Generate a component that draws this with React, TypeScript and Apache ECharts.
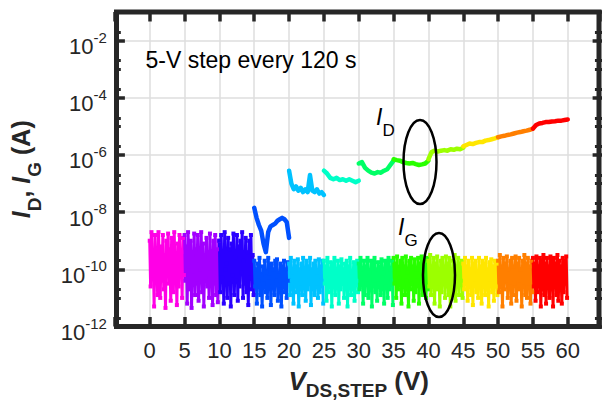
import React, { useEffect, useRef } from "react";
import * as echarts from "echarts";

const FONT = '"Liberation Sans", Arial, Helvetica, sans-serif';
const INK = "#262626";

// x-axis tick labels (V) and y-axis decade labels (log10 A)
const X_TICK_LABELS = [0, 5, 10, 15, 20, 25, 30, 35, 40, 45, 50, 55, 60];
const Y_DECADE_LABELS = [-12, -10, -8, -6, -4, -2];
const Y_MINOR_TICKS = [-11.7, -11, -10.7, -9.7, -9, -8.7, -7.7, -7, -6.7, -5.7, -5, -4.7, -3.7, -3, -2.7, -1.7];

// 5-V steps
const STEP_STARTS = [0, 5, 10, 15, 20, 25, 30, 35, 40, 45, 50, 55];
const STEP_COLORS = [
  "#FF00E6", "#A200FF", "#2A00FF", "#0050FF", "#00C2FF", "#00FFC8",
  "#00FF66", "#28FF00", "#9CFF00", "#FFE600", "#FF7F00", "#FF0000",
];

// I_G (log10 A) read from each step's noise cloud
const IG_00_05 = [-9.0,-10.6,-8.7,-10.2,-9.4,-11.3,-8.8,-10.0,-9.6,-10.9,-8.7,-9.8,-11.0,-9.2,-10.4,-8.8,-10.7,-9.5,-11.35,-9.0,-10.1,-8.75,-10.5,-9.3,-11.1,-8.9,-9.9,-10.8,-8.7,-10.3,-9.7,-11.25,-9.1,-10.6,-8.8,-10.0,-9.4,-11.0,-8.9,-10.2];
const IG_05_10 = [-8.8,-10.4,-9.2,-11.2,-8.7,-9.9,-10.7,-9.0,-11.35,-9.5,-10.2,-8.75,-10.9,-9.3,-10.5,-8.8,-11.1,-9.7,-10.0,-8.7,-10.8,-9.1,-11.3,-9.6,-10.3,-8.9,-10.6,-9.4,-11.0,-8.75,-10.1,-9.8,-11.25,-9.0,-10.5,-8.8,-10.9,-9.3,-11.15,-9.0];
const IG_10_15 = [-9.0,-10.8,-8.8,-10.3,-9.5,-11.2,-8.7,-10.0,-9.8,-11.0,-8.9,-10.5,-9.3,-11.3,-9.1,-10.2,-8.75,-10.9,-9.6,-10.4,-8.8,-11.1,-9.2,-10.6,-9.0,-10.1,-8.7,-11.0,-9.7,-10.5,-8.9,-10.8,-9.4,-11.25,-9.0,-10.3,-8.8,-10.7,-9.5,-10.9];
const IG_15_20 = [-9.7,-10.6,-10.0,-11.2,-9.8,-10.4,-9.6,-10.9,-10.2,-11.3,-9.9,-10.5,-9.7,-10.8,-10.1,-11.0,-9.6,-10.3,-9.9,-11.25,-9.8,-10.6,-10.0,-10.9,-9.7,-10.4,-9.65,-11.1,-10.2,-10.7,-9.8,-11.3,-9.9,-10.5,-9.7,-10.8,-10.0,-11.0,-9.75,-10.4];
const IG_20_25 = [-9.8,-10.9,-9.6,-10.4,-10.1,-11.2,-9.7,-10.6,-9.9,-10.8,-9.65,-11.3,-10.0,-10.5,-9.8,-10.9,-9.6,-10.3,-10.2,-11.1,-9.7,-10.7,-9.9,-10.4,-9.6,-11.25,-10.0,-10.6,-9.8,-10.9,-9.7,-10.5,-10.1,-11.0,-9.65,-10.8,-9.9,-10.4,-9.7,-11.2];
const IG_25_30 = [-9.7,-10.5,-9.9,-11.1,-9.6,-10.8,-10.0,-10.4,-9.75,-11.3,-9.8,-10.6,-9.6,-10.9,-10.1,-10.5,-9.7,-11.2,-9.9,-10.7,-9.65,-10.4,-10.0,-11.0,-9.8,-10.6,-9.7,-11.3,-9.9,-10.5,-9.6,-10.9,-10.1,-10.7,-9.75,-11.1,-9.8,-10.4,-9.7,-10.8];
const IG_30_35 = [-9.8,-10.7,-9.6,-10.3,-10.0,-11.2,-9.7,-10.9,-9.9,-10.5,-9.6,-11.0,-10.1,-10.6,-9.7,-11.3,-9.8,-10.4,-9.6,-10.8,-10.0,-11.1,-9.75,-10.5,-9.9,-10.9,-9.65,-10.3,-10.1,-11.2,-9.7,-10.6,-9.8,-11.0,-9.6,-10.7,-10.0,-10.4,-9.7,-11.25];
const IG_35_40 = [-9.6,-10.5,-9.8,-11.0,-9.55,-10.7,-10.0,-10.3,-9.7,-11.2,-9.6,-10.6,-9.9,-10.9,-9.55,-10.4,-10.1,-11.3,-9.7,-10.7,-9.6,-10.5,-9.9,-11.1,-9.65,-10.8,-10.0,-10.4,-9.6,-11.2,-9.8,-10.6,-9.55,-10.9,-9.9,-10.5,-9.7,-11.0,-9.6,-10.7];
const IG_40_45 = [-9.7,-10.6,-9.5,-10.9,-9.9,-10.4,-9.6,-11.2,-9.8,-10.7,-9.55,-10.5,-10.0,-11.3,-9.7,-10.8,-9.6,-10.4,-9.9,-11.0,-9.55,-10.6,-9.8,-10.9,-9.6,-11.3,-10.0,-10.5,-9.7,-10.8,-9.5,-11.1,-9.9,-10.6,-9.6,-10.9,-9.8,-10.4,-9.7,-11.0];
const IG_45_50 = [-9.8,-10.7,-9.6,-10.4,-9.9,-11.1,-9.7,-10.6,-10.0,-10.9,-9.6,-11.25,-9.8,-10.5,-9.7,-10.8,-10.1,-11.0,-9.6,-10.6,-9.9,-11.2,-9.7,-10.4,-9.8,-10.9,-9.6,-10.7,-10.0,-11.3,-9.75,-10.5,-9.65,-10.8,-9.9,-11.1,-9.7,-10.6,-9.8,-10.9];
const IG_50_55 = [-9.7,-10.8,-9.5,-10.5,-9.9,-11.3,-9.6,-10.7,-9.8,-10.4,-9.55,-11.0,-10.0,-10.6,-9.7,-11.2,-9.6,-10.9,-9.9,-10.5,-9.55,-11.1,-9.8,-10.7,-9.6,-10.4,-10.0,-11.3,-9.7,-10.6,-9.5,-10.9,-9.8,-11.0,-9.6,-10.5,-9.9,-11.2,-9.7,-10.8];
const IG_55_60 = [-9.6,-10.6,-9.8,-11.1,-9.55,-10.8,-9.9,-10.4,-9.6,-11.3,-9.7,-10.7,-9.5,-10.9,-9.8,-11.2,-9.6,-10.5,-9.9,-11.0,-9.55,-10.7,-9.7,-11.3,-9.6,-10.6,-9.8,-10.9,-9.5,-11.1,-9.7,-10.4,-9.9,-11.2,-9.6,-10.8,-9.7,-10.5,-9.55,-11.0];
const IG_STEPS = [IG_00_05, IG_05_10, IG_10_15, IG_15_20, IG_20_25, IG_25_30, IG_30_35, IG_35_40, IG_40_45, IG_45_50, IG_50_55, IG_55_60];

// I_D (log10 A) per step (not separable from I_G below 15 V)
const ID_15_20 = [-7.85,-8.2,-8.45,-8.65,-9.1,-9.4,-8.7,-8.5,-8.45,-8.4,-8.3,-8.25,-8.2,-8.25,-8.35,-8.9];
const ID_20_25 = [-6.55,-7.0,-7.2,-7.1,-7.25,-7.15,-7.3,-7.2,-7.3,-6.7,-7.25,-7.3,-7.2,-7.35,-7.3,-7.4];
const ID_25_30 = [-6.55,-6.65,-6.8,-6.85,-6.8,-6.88,-6.85,-6.9,-6.85,-6.9,-6.95,-6.9];
const ID_30_35 = [-6.3,-6.25,-6.45,-6.55,-6.62,-6.65,-6.6,-6.62,-6.55,-6.5,-6.35,-6.2];
const ID_35_40 = [-6.15,-6.18,-6.2,-6.25,-6.28,-6.3,-6.28,-6.32,-6.35,-6.33,-6.3,-6.2];
const ID_40_45 = [-6.15,-5.9,-5.85,-5.88,-5.85,-5.83,-5.85,-5.8,-5.82,-5.78,-5.8,-5.75];
const ID_45_50 = [-5.7,-5.65,-5.6,-5.62,-5.58,-5.55,-5.55,-5.5,-5.48,-5.45,-5.42,-5.38];
const ID_50_55 = [-5.38,-5.35,-5.33,-5.3,-5.28,-5.25,-5.22,-5.2,-5.17,-5.15,-5.12,-5.08];
const ID_55_60 = [-5.08,-4.95,-4.9,-4.88,-4.85,-4.85,-4.83,-4.82,-4.8,-4.8,-4.78,-4.76];
const ID_STEPS: (number[] | null)[] = [null, null, null, ID_15_20, ID_20_25, ID_25_30, ID_30_35, ID_35_40, ID_40_45, ID_45_50, ID_50_55, ID_55_60];

const X_MIN = -5;
const X_MAX = 65;

export default function App() {
  const ref = useRef<HTMLDivElement>(null);
  useEffect(() => {
    if (!ref.current) return;
    const chart = echarts.init(ref.current, null, { renderer: "svg" });
    const series: any[] = [];
    IG_STEPS.forEach((vals, k) => {
      const n = vals.length;
      const c = STEP_COLORS[k];
      series.push({
        type: "line",
        data: vals.map((v, j) => [STEP_STARTS[k] + (4.9 * j) / (n - 1), v]),
        symbol: "rect",
        symbolSize: 4,
        showSymbol: true,
        lineStyle: { color: c, width: 3 },
        itemStyle: { color: c },
        z: 2,
        silent: true,
      });
    });
    ID_STEPS.forEach((vals, k) => {
      if (!vals) return;
      const n = vals.length;
      const c = STEP_COLORS[k];
      series.push({
        type: "line",
        data: vals.map((v, j) => [STEP_STARTS[k] + (5 * j) / (n - 1), v]),
        showSymbol: false,
        lineStyle: { color: c, width: 4.5, join: "round", cap: "round" },
        itemStyle: { color: c },
        z: 3,
        silent: true,
      });
    });
    // minor (log) ticks on left and right frame edges
    const minorSegs: any[] = [];
    Y_MINOR_TICKS.forEach((t) => {
      minorSegs.push([{ coord: [X_MIN, t] }, { coord: [X_MIN + 0.85, t] }]);
      minorSegs.push([{ coord: [X_MAX, t] }, { coord: [X_MAX - 1.1, t] }]);
    });
    series.push({
      type: "line",
      data: [],
      silent: true,
      z: 4,
      markLine: {
        symbol: "none",
        silent: true,
        animation: false,
        label: { show: false },
        lineStyle: { color: INK, width: 3, type: "solid" },
        emphasis: { disabled: true },
        data: minorSegs,
      },
    });

    const mkX = (pos: string, withLabels: boolean) => ({
      type: "value",
      position: pos,
      min: X_MIN,
      max: X_MAX,
      interval: 5,
      axisLine: { show: false, onZero: false },
      axisTick: { show: true, inside: true, length: 9.5, lineStyle: { color: INK, width: 3.5 } },
      axisLabel: withLabels
        ? {
            formatter: (v: number) => (X_TICK_LABELS.includes(v) ? String(v) : ""),
            fontSize: 22,
            color: INK,
            margin: 13,
            fontFamily: FONT,
          }
        : { show: false },
      splitLine: withLabels
        ? { show: true, lineStyle: { color: "#dedede", width: 1.5 } }
        : { show: false },
    });
    const mkY = (pos: string) => ({
      type: "value",
      position: pos,
      min: -12,
      max: -1,
      interval: 2,
      axisLine: { show: false, onZero: false },
      axisTick: { show: true, inside: true, length: 10, lineStyle: { color: INK, width: 3.5 } },
      axisLabel: { show: false },
      splitLine: { show: false },
    });

    const yMain: any = mkY("left");
    yMain.axisLabel = {
      show: true,
      formatter: (v: number) => (Y_DECADE_LABELS.includes(v) ? `{b|10}{s|${v}}` : ""),
      margin: 8,
      padding: [12, 0, 0, 0],
      rich: {
        b: { fontSize: 22, lineHeight: 34, color: INK, fontFamily: FONT },
        s: { fontSize: 15, verticalAlign: "top", color: INK, fontFamily: FONT },
      },
    };
    yMain.splitLine = { show: true, lineStyle: { color: "#dedede", width: 1.5 } };
    yMain.name = "{i|I}{sub|D}{n|, }{i|I}{sub|G}{n| (A)}";
    yMain.nameLocation = "middle";
    yMain.nameRotate = 90;
    yMain.nameGap = 71;
    yMain.nameTextStyle = {
      rich: {
        i: { fontSize: 25, fontWeight: "bold", fontStyle: "italic", lineHeight: 46, color: INK, fontFamily: FONT },
        sub: { fontSize: 19, fontWeight: "bold", verticalAlign: "bottom", color: INK, fontFamily: FONT },
        n: { fontSize: 25, fontWeight: "bold", lineHeight: 46, color: INK, fontFamily: FONT },
      },
    };

    const xMain: any = mkX("bottom", true);
    xMain.name = "{vi|V}{sub|DS,STEP}{n| (V)}";
    xMain.nameLocation = "middle";
    xMain.nameGap = 35;
    xMain.nameTextStyle = {
      rich: {
        vi: { fontSize: 26, fontWeight: "bold", fontStyle: "italic", lineHeight: 38, color: INK, fontFamily: FONT },
        sub: { fontSize: 19, fontWeight: "bold", verticalAlign: "bottom", color: INK, fontFamily: FONT },
        n: { fontSize: 26, fontWeight: "bold", lineHeight: 38, color: INK, fontFamily: FONT },
      },
    };

    chart.setOption({
      animation: false,
      textStyle: { fontFamily: FONT },
      grid: { left: 114.9, top: 12, width: 487.7, height: 314.5, containLabel: false, outerBoundsMode: "none" },
      xAxis: [xMain, mkX("top", false)],
      yAxis: [yMain, mkY("right")],
      series,
      graphic: [
        {
          type: "rect",
          shape: { x: 116.5, y: 12, width: 482.5, height: 314.5 },
          style: { fill: "none", stroke: INK, lineWidth: 5 },
          z: 100,
          silent: true,
        },
        {
          type: "text",
          x: 145.5,
          y: 60,
          style: { text: "5-V step every 120 s", fontSize: 23, fontFamily: FONT, fill: "#000", verticalAlign: "middle" },
          z: 101,
        },
        {
          type: "text",
          x: 376,
          y: 94.5,
          style: {
            text: "{i|I}{d|D}",
            verticalAlign: "top",
            rich: {
              i: { fontSize: 23, fontStyle: "italic", lineHeight: 44, fill: "#000", fontFamily: FONT },
              d: { fontSize: 17, verticalAlign: "bottom", fill: "#000", fontFamily: FONT },
            },
          },
          z: 101,
        },
        {
          type: "ellipse",
          shape: { cx: 420, cy: 162, rx: 16.5, ry: 42 },
          style: { fill: "none", stroke: "#000", lineWidth: 2.5 },
          z: 101,
        },
        {
          type: "text",
          x: 398,
          y: 204.5,
          style: {
            text: "{i|I}{d|G}",
            verticalAlign: "top",
            rich: {
              i: { fontSize: 23, fontStyle: "italic", lineHeight: 44, fill: "#000", fontFamily: FONT },
              d: { fontSize: 17, verticalAlign: "bottom", fill: "#000", fontFamily: FONT },
            },
          },
          z: 101,
        },
        {
          type: "ellipse",
          shape: { cx: 439, cy: 275, rx: 16, ry: 42 },
          style: { fill: "none", stroke: "#000", lineWidth: 2.5 },
          z: 101,
        },
      ],
    });
    return () => chart.dispose();
  }, []);
  return (
    <div
      ref={ref}
      style={{ position: "absolute", left: 0, top: 0, width: 602, height: 400 }}
    />
  );
}
